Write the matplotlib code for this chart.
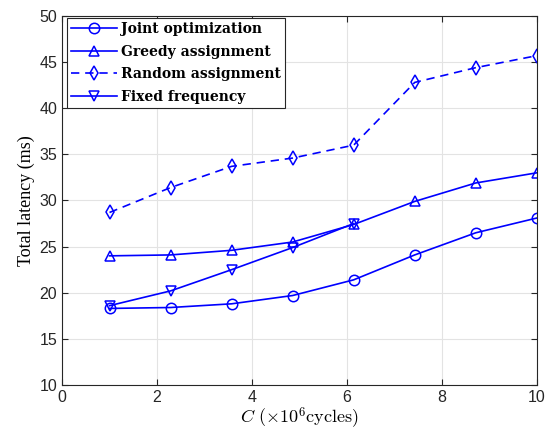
import matplotlib
matplotlib.use("Agg")
import matplotlib.pyplot as plt
import numpy as np

x = [1.0, 2.2857, 3.5714, 4.8571, 6.1429, 7.4286, 8.7143, 10.0]
x_fixed = x[:5]
joint = [18.3, 18.4, 18.8, 19.7, 21.4, 24.1, 26.5, 28.1]
greedy = [24.0, 24.1, 24.6, 25.5, 27.4, 29.9, 31.9, 33.0]
random_a = [28.7, 31.4, 33.7, 34.6, 36.0, 42.8, 44.4, 45.7]
fixed = [18.6, 20.2, 22.5, 24.9, 27.5]
labels = ["Joint optimization", "Greedy assignment", "Random assignment", "Fixed frequency"]

plt.rcParams['mathtext.fontset'] = 'cm'
fig = plt.figure(figsize=(5.45, 4.38), dpi=100)
ax = fig.add_axes([0.1138, 0.121, 0.8712, 0.8425])

c = '#0000FF'
mk = dict(markerfacecolor='none', markeredgecolor=c, markersize=7.5, markeredgewidth=1.1, linewidth=1.2, color=c)
ax.plot(x, joint, marker='o', linestyle='-', label=labels[0], **mk)
ax.plot(x, greedy, marker='^', linestyle='-', label=labels[1], **mk)
ax.plot(x, random_a, marker='d', linestyle=(0, (5, 3.5)), label=labels[2], **mk)
ax.plot(x_fixed, fixed, marker='v', linestyle='-', label=labels[3], **mk)

ax.set_xlim(0, 10)
ax.set_ylim(10, 50)
ax.set_xticks([0, 2, 4, 6, 8, 10])
ax.set_yticks([10, 15, 20, 25, 30, 35, 40, 45, 50])
ax.grid(True, color='#E3E3E3', linewidth=0.8)
ax.set_axisbelow(True)
for s in ax.spines.values():
    s.set_color('#262626')
    s.set_linewidth(0.8)
ax.tick_params(direction='in', top=True, right=True, length=4, color='#262626',
               labelsize=11.5, labelcolor='#262626')
for t in ax.get_xticklabels() + ax.get_yticklabels():
    t.set_fontfamily('Liberation Sans')

ax.set_xlabel(r'$C\ (\times 10^6\mathrm{cycles})$', fontsize=13, labelpad=1)
ax.set_ylabel('Total latency (ms)', fontsize=13, family='Liberation Serif', labelpad=3)

leg = ax.legend(loc='upper left', bbox_to_anchor=(0.01, 0.995),
                prop={'family': 'DejaVu Serif', 'weight': 'bold', 'size': 10},
                fancybox=False, edgecolor='#262626', framealpha=1, borderpad=0.3,
                labelspacing=0.62, handlelength=3.3, handletextpad=0.3, borderaxespad=0.0)
leg.get_frame().set_linewidth(0.8)

fig.savefig('out.png', dpi=100)
